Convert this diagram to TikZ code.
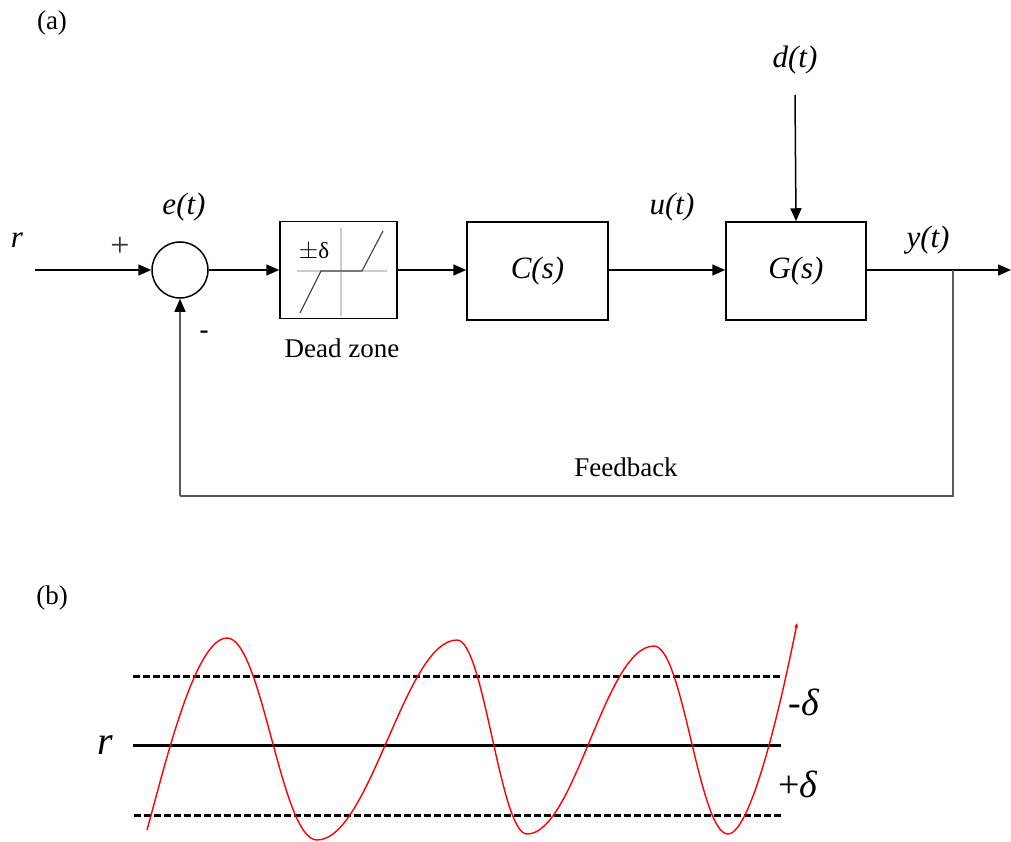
\documentclass[tikz,border=0pt]{standalone}
\usepackage{fontspec}
\setmainfont{Liberation Serif}
\usetikzlibrary{arrows.meta}
\begin{document}
\begin{tikzpicture}[x=1pt,y=-1pt,
  wire/.style={line width=1.5pt, draw=black},
  arr/.style={wire, -{Triangle[length=13pt,width=11pt]}},
  fb/.style={line width=1.5pt, draw=black!65},
  blk/.style={draw, line width=1.5pt, inner sep=0pt, minimum height=98pt},
  lbl/.style={font=\fontsize{27}{29}\selectfont, inner sep=0pt},
  ilbl/.style={font=\fontsize{31}{33}\selectfont\itshape, inner sep=0pt},
  biglbl/.style={font=\fontsize{40}{42}\selectfont\itshape, inner sep=0pt},
  dashln/.style={line width=3pt, dash pattern=on 7pt off 3pt},
]
\useasboundingbox (0,0) rectangle (1011,842);

% ---------- (a) ----------
\node[lbl] (la) at (52,23) {(a)};

\coordinate (rin) at (35,270);
\node[draw, circle, line width=1.5pt, minimum size=56pt, inner sep=0pt] (sum) at (180,270) {};
\node[blk, minimum width=117pt, minimum height=97pt] (dz) at (338.5,270) {};
\node[blk, minimum width=141pt] (C) at (537.5,271) {\fontsize{31}{33}\selectfont\itshape C(s)};
\node[blk, minimum width=140pt] (G) at (796,271) {\fontsize{31}{33}\selectfont\itshape G(s)};
\coordinate (yout) at (1011,270);
\coordinate (br) at (953,270);
\coordinate (fbr) at (953,496);
\coordinate (fbl) at (180,496);
\coordinate (din) at (795,95);

% dead zone symbol
\draw[black!20, line width=1.8pt] (341,228) -- (341,316);
\draw[black!20, line width=1.8pt] (297,271) -- (387,271);
\draw[black!70, line width=1.2pt] (300,313) -- (321,271) -- (362,271) -- (383,231);
\node[font=\fontsize{23}{25}\selectfont, inner sep=0pt] (pd) at (314,252) {$\pm$δ};

\draw[arr] (rin) -- (sum.west);
\draw[arr] (sum.east) -- (dz.west);
\draw[arr] (dz.east |- 0,270) -- (C.west |- 0,270);
\draw[arr] (C.east |- 0,270) -- (G.west |- 0,270);
\draw[arr] (G.east |- 0,270) -- (yout);
\draw[arr] (din) -- (G.north);
\draw[fb] (br) -- (fbr) -- (fbl);
\draw[fb, -{Triangle[length=13pt,width=11pt,color=black]}] (fbl) -- (sum.south);

\node[ilbl] (r1) at (17,240) {r};
\node[font=\fontsize{34}{36}\selectfont, inner sep=0pt, text=black!80] (plus) at (120,247) {+};
\node[lbl, font=\fontsize{27}{29}\selectfont\bfseries] (minus) at (204,335) {-};
\node[ilbl] (et) at (184,207) {e(t)};
\node[ilbl] (ut) at (672,207) {u(t)};
\node[ilbl] (yt) at (928,240) {y(t)};
\node[ilbl] (dt) at (795,60) {d(t)};
\node[lbl] (dzl) at (342,348) {Dead zone};
\node[lbl] (fbl2) at (626,467) {Feedback};

% ---------- (b) ----------
\node[lbl] (lb) at (52,598) {(b)};
\coordinate (u1) at (133,676); \coordinate (u2) at (780,676);
\coordinate (m1) at (133,745); \coordinate (m2) at (781,745);
\coordinate (l1) at (134,815); \coordinate (l2) at (783,815);
\draw[dashln] (u1) -- (u2);
\draw[line width=3pt] (m1) -- (m2);
\draw[dashln] (l1) -- (l2);
\node[biglbl] (r2) at (105,745) {r};
\node[font=\fontsize{38}{40}\selectfont, inner sep=0pt] (md) at (804,702) {-\textit{δ}};
\node[font=\fontsize{38}{40}\selectfont, inner sep=0pt] (pdl) at (798,784) {+\textit{δ}};

\coordinate (w0) at (147,830);
\coordinate (p1) at (227,638);
\coordinate (t1) at (317,840);
\coordinate (p2) at (457,640);
\coordinate (t2) at (527,834);
\coordinate (p3) at (654,646);
\coordinate (t3) at (728,834);
\coordinate (w1) at (797,623);
\draw[red, line width=1.4pt, -{Stealth[length=5pt,width=4pt]}]
  (w0) .. controls (165,765) and (195,638) .. (p1)
       .. controls (262,638) and (281,840) .. (t1)
       .. controls (370,840) and (405,640) .. (p2)
       .. controls (484,640) and (500,834) .. (t2)
       .. controls (575,834) and (605,646) .. (p3)
       .. controls (683,646) and (699,834) .. (t3)
       .. controls (752,834) and (784,690) .. (w1);
\end{tikzpicture}
\end{document}
